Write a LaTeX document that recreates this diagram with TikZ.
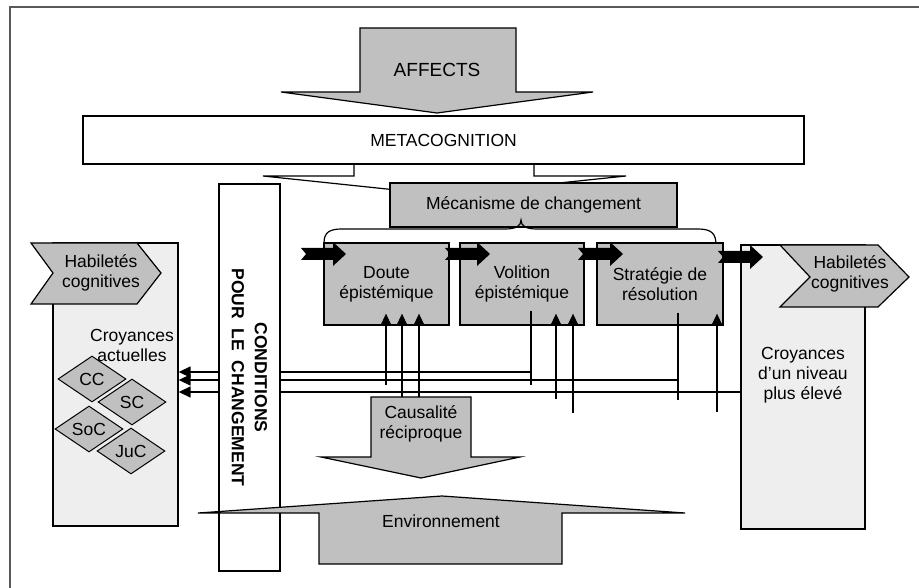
\documentclass[tikz,border=0pt]{standalone}
\usepackage{fontspec}
\setmainfont{Liberation Sans}
\usetikzlibrary{arrows.meta,shapes.geometric}

\definecolor{boxgray}{HTML}{C0C0C0}
\definecolor{colgray}{HTML}{EEEEEE}

\tikzset{
  gbox/.style={draw, line width=1.3pt, fill=boxgray, align=center, inner sep=0pt},
  colbox/.style={draw, line width=1.3pt, fill=colgray, inner sep=0pt},
  losange/.style={diamond, draw, line width=1pt, fill=boxgray, aspect=1.5,
    inner sep=0pt, minimum width=68pt, minimum height=46pt},
  bloc/.style={draw, line width=1.2pt, fill=boxgray},
  trait/.style={line width=1.4pt},
  fleche/.style={line width=1.4pt, -{Triangle[length=12pt,width=11pt]}},
}

\begin{document}
\begin{tikzpicture}[x=1pt, y=-1pt, font=\fontsize{17.5}{20}\selectfont]
        \useasboundingbox (0,0) rectangle (919,588);
        \draw[line width=1.5pt, black!65] (919,7) -- (10,7) -- (10,588);

        % affects et metacognition
        \draw[bloc] (360,28) -- (516,28) -- (516,92) -- (593,92) -- (437,113) -- (281,92) -- (360,92) -- cycle;
        \node (affects) at (437,70) {\fontsize{19}{22}\selectfont AFFECTS};
        \draw[line width=1.2pt, fill=white] (354,160) -- (354,176) -- (263,176) -- (444,195) -- (626,176) -- (534,176) -- (534,160);
        \node[draw, line width=1.3pt, fill=white, minimum width=721pt, minimum height=48pt] (meta) at (443.5,140) {METACOGNITION};
        \node[gbox, minimum width=287pt, minimum height=44pt] (meca) at (533.5,205) {Mécanisme de changement};

        % croyances actuelles
        \node[colbox, minimum width=125pt, minimum height=283pt] (actuelles) at (115.5,384.5) {};
        \draw[bloc] (31,243) -- (137,243) -- (161,273) -- (137,304) -- (31,304) -- (53,273) -- cycle;
        \node[align=center] (habg) at (101,273) {Habiletés\\cognitives};
        \node[align=center] (txtact) at (132,345) {Croyances\\actuelles};
        \node[losange] (cc) at (92,379) {CC};
        \node[losange] (sc) at (132,402) {SC};
        \node[losange] (soc) at (89,429) {SoC};
        \node[losange] (juc) at (131,451) {JuC};

        % croyances d'un niveau plus eleve
        \node[colbox, minimum width=124pt, minimum height=284pt] (eleve) at (803,387) {};
        \draw[bloc] (780,245) -- (878,245) -- (909,277) -- (878,307) -- (780,307) -- (810,277) -- cycle;
        \node[align=center] (habd) at (850,274) {Habiletés\\cognitives};
        \node[align=center] (txtel) at (803,375) {Croyances\\d’un niveau\\plus élevé};

        % mecanisme
        \draw[line width=1.2pt] (324,243) .. controls (324,232) and (330,229) .. (342,229) -- (505,229)
            .. controls (516,229) and (521,226) .. (521,220) .. controls (521,226) and (526,229) .. (537,229)
            -- (698,229) .. controls (712,229) and (716,234) .. (716,245);
        \node[gbox, minimum width=125pt, minimum height=82pt] (doute) at (386.5,284) {Doute\\épistémique};
        \node[gbox, minimum width=124pt, minimum height=82pt] (volition) at (522,284) {Volition\\épistémique};
        \node[gbox, minimum width=126pt, minimum height=82pt] (strategie) at (660,284) {Stratégie de\\résolution};

        % retours vers les croyances actuelles
        \coordinate (jA) at (531,372);
        \coordinate (jB) at (678,380);
        \coordinate (jC) at (741,392);
        \draw[trait, shorten <=-15pt] (volition.south -| jA) -- (531,385);
        \draw[trait, shorten <=-13pt] (strategie.south -| jB) -- (678,400);
        \draw[fleche] (jA) -- (jA -| actuelles.east);
        \draw[fleche] (jB) -- (jB -| actuelles.east);
        \draw[fleche] (eleve.west |- jC) -- (jC -| actuelles.east);

        % entrees par le bas
        \foreach \x/\y in {386/385, 402/397, 419/397} {
            \coordinate (p) at (\x,\y);
            \draw[fleche, shorten >=-12pt] (p) -- (doute.south -| p);
        }
        \foreach \x/\y in {556/399, 573/413} {
            \coordinate (p) at (\x,\y);
            \draw[fleche, shorten >=-12pt] (p) -- (volition.south -| p);
        }
        \coordinate (p) at (717,412);
        \draw[fleche, shorten >=-12pt] (p) -- (strategie.south -| p);

        % conditions
        \node[draw, line width=1.3pt, fill=white, rotate=-90, align=center, minimum width=387pt, minimum height=61pt,
            font=\fontsize{17.5}{23}\selectfont\bfseries] (cond) at (249.5,377.5) {CONDITIONS\\POUR\ \ LE\ \ CHANGEMENT};

        % causalite et environnement
        \draw[bloc] (371,397) -- (471,397) -- (471,457) -- (520,457) -- (421,478) -- (321,457) -- (371,457) -- cycle;
        \node[align=center] (causa) at (421,424) {Causalité\\réciproque};
        \draw[bloc] (319,564) -- (319,513) -- (198,513) -- (442,496) -- (685,513) -- (562,513) -- (562,564) -- cycle;
        \node (env) at (441,521) {Environnement};

        % fleches noires
        \foreach \x/\y in {301/254, 445/254, 578/254, 718/257}
            \fill (\x,\y) ++(0,-6) -- ++(32,0) -- ++(0,-6) -- ++(13,12) -- ++(-13,12) -- ++(0,-6) -- ++(-32,0) -- ++(5,-6) -- cycle;
    \end{tikzpicture}
\end{document}
